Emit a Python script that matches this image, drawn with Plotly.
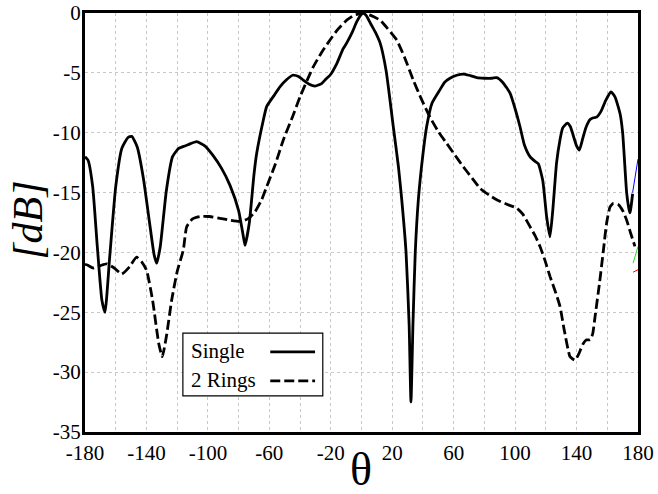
import plotly.graph_objects as go

# Single ring pattern (solid)
single_theta = [-180, -178, -175, -172, -169, -167, -164, -160, -156, -152, -149.6, -146, -142, -138, -135, -133.3,
                -131, -127, -123, -119, -117, -113, -107.3, -102, -96.7, -91, -85.6, -80, -77, -75.8, -73, -70, -68.2,
                -64, -61.7, -57, -53, -49, -44.8, -41, -37.9, -34, -30.2, -26, -23, -20.5, -16, -12, -9.6, -6, -3, 0,
                1.2, 3, 6, 9, 12.1, 16, 20.7, 24, 26.2, 29, 31, 32.2, 33.5, 35, 37, 40, 42.4, 46, 51.1, 54, 57.6, 62,
                66.3, 70, 75, 80, 85, 88, 92, 96.7, 100, 103.2, 106, 109.7, 113, 115.1, 118, 120.5, 122.7, 124.5, 127,
                129.2, 131, 134, 136, 138, 140, 141.8, 144, 146, 148.8, 151, 153.1, 156, 159, 162.4, 165, 168.3, 170,
                172.6, 174, 174.8, 176.5]
single_db = [-12.0, -12.3, -14.5, -19.5, -24.0, -25.0, -20.5, -14.5, -11.3, -10.4, -10.3, -11.2, -13.8, -17.5, -20.2,
             -20.9, -19.5, -14.8, -12.0, -11.3, -11.2, -11.0, -10.75, -11.1, -11.9, -13.0, -14.4, -16.5, -18.6, -19.4,
             -17.5, -13.5, -11.7, -9.0, -7.8, -6.9, -6.15, -5.6, -5.2, -5.3, -5.6, -5.95, -6.1, -5.9, -5.5, -5.2, -4.2,
             -3.0, -2.5, -1.6, -0.7, -0.1, 0.0, -0.2, -0.9, -1.6, -2.5, -4.8, -9.5, -12.8, -15.6, -20.0, -26.0, -32.5,
             -26.0, -20.0, -15.6, -11.8, -9.5, -7.5, -6.4, -5.8, -5.45, -5.2, -5.1, -5.2, -5.4, -5.45, -5.45, -5.4,
             -5.8, -6.7, -8.0, -9.5, -11.0, -12.0, -12.4, -12.6, -14.0, -17.0, -18.7, -16.5, -12.5, -10.6, -9.6, -9.2,
             -9.5, -10.3, -11.1, -11.45, -10.5, -9.6, -8.9, -8.75, -8.7, -8.2, -7.3, -6.6, -7.0, -8.4, -10.0, -15.0,
             -16.3, -16.7, -15.1]

# Two-ring pattern (dashed)
rings_theta = [-180, -178.5, -174.6, -170, -165.9, -161, -156.1, -151, -146.4, -143, -139.9, -136, -132, -129.7,
               -127, -123.6, -120, -116, -113.8, -110, -105.1, -99, -92.1, -86, -79.1, -74, -69.3, -65, -61.7, -56,
               -50.9, -45, -40, -35, -31.4, -26, -20.5, -15, -9.6, -5, 1.2, 6, 12.1, 17, 22.9, 28, 33.7, 39, 44.6,
               50, 55.5, 61, 66.3, 72, 77.2, 83, 88, 95, 101.1, 105, 109.7, 113, 116.2, 119, 122.7, 126, 129.2, 132,
               135.7, 137.5, 139, 141, 144.4, 146.5, 148.8, 150.5, 152, 155, 157.5, 159.5, 161.8, 164, 167.2, 170,
               172.6, 175, 178]
rings_db = [-21.0, -21.05, -21.3, -21.1, -20.95, -21.3, -21.8, -21.2, -20.4, -20.8, -21.5, -24.0, -27.6, -28.7,
            -27.0, -24.0, -21.6, -19.8, -17.85, -17.2, -17.0, -17.0, -17.15, -17.3, -17.4, -17.2, -16.6, -15.6, -14.5,
            -12.6, -10.6, -8.7, -7.0, -5.5, -4.5, -3.3, -2.25, -1.3, -0.6, -0.2, 0.0, -0.2, -0.6, -1.3, -2.25, -3.7,
            -5.6, -7.2, -8.7, -9.9, -10.9, -11.9, -12.85, -13.8, -14.65, -15.2, -15.6, -16.0, -16.3, -16.8, -17.85,
            -18.6, -19.5, -20.5, -22.0, -23.2, -24.5, -26.5, -28.7, -28.9, -29.0, -28.6, -27.6, -27.3, -27.3, -26.8,
            -25.4, -22.5, -19.8, -17.6, -16.2, -15.9, -16.0, -16.5, -17.3, -18.3, -19.5]

# small coloured remnants at the right edge
blue_theta = [176.5, 180]
blue_db = [-15.0, -12.2]
green_theta = [176.8, 180]
green_db = [-20.9, -19.5]
red_theta = [176.8, 180]
red_db = [-21.65, -21.45]

x_tick_vals = [-180, -140, -100, -60, -20, 20, 60, 100, 140, 180]
y_tick_vals = [0, -5, -10, -15, -20, -25, -30, -35]

legend_labels = ["Single", "2 Rings"]

serif = "Liberation Serif, Times New Roman, serif"

fig = go.Figure()
fig.add_trace(go.Scatter(x=single_theta, y=single_db, mode="lines", name=legend_labels[0],
                         line=dict(color="black", width=2.8, shape="spline", smoothing=0.5)))
fig.add_trace(go.Scatter(x=rings_theta, y=rings_db, mode="lines", name=legend_labels[1],
                         line=dict(color="black", width=2.8, dash="10px,4px", shape="spline", smoothing=0.5)))
fig.add_trace(go.Scatter(x=blue_theta, y=blue_db, mode="lines", line=dict(color="blue", width=1), showlegend=False))
fig.add_trace(go.Scatter(x=green_theta, y=green_db, mode="lines", line=dict(color="#22dd22", width=1), showlegend=False))
fig.add_trace(go.Scatter(x=red_theta, y=red_db, mode="lines", line=dict(color="red", width=1), showlegend=False))

axis_common = dict(showline=True, linecolor="black", linewidth=3, mirror=True, ticks="",
                   showgrid=True, gridcolor="#c8c8c8", griddash="dot", gridwidth=1, zeroline=False,
                   automargin=False, ticklabeloverflow="allow",
                   tickfont=dict(family=serif, size=21, color="black"))

fig.update_xaxes(range=[-180, 180], tickmode="array", tickvals=x_tick_vals,
                 ticktext=[str(v) for v in x_tick_vals], **axis_common)
fig.update_yaxes(range=[-35, 0], tickmode="array", tickvals=y_tick_vals,
                 ticktext=[str(v) for v in y_tick_vals], ticklabelstandoff=-3, **axis_common)
# minor gridlines every 20 degrees
fig.update_xaxes(minor=dict(dtick=20, showgrid=True, gridcolor="#c8c8c8", griddash="dot", gridwidth=1))

fig.update_layout(
    width=658, height=494,
    margin=dict(l=85, r=20, t=13, b=62),
    plot_bgcolor="white", paper_bgcolor="white",
    showlegend=False,
)

# axis titles
fig.add_annotation(text="<i>[dB]</i>", xref="paper", yref="paper", x=-0.103, y=0.504, showarrow=False,
                   textangle=-90, font=dict(family=serif, size=42, color="black"), xanchor="center", yanchor="middle")
fig.add_annotation(text="θ", xref="paper", yref="paper", x=0.499, y=-0.090, showarrow=False,
                   font=dict(family=serif, size=46, color="black"), xanchor="center", yanchor="middle")

# custom legend (text left, sample right)
lx0, lx1, ly0, ly1 = 0.177, 0.430, 0.086, 0.236
fig.add_shape(type="rect", xref="paper", yref="paper", x0=lx0, x1=lx1, y0=ly0, y1=ly1,
              line=dict(color="black", width=1.2), fillcolor="white", layer="above")
fig.add_annotation(text=legend_labels[0], xref="paper", yref="paper", x=lx0 + 0.011, y=0.193, showarrow=False,
                   xanchor="left", yanchor="middle", font=dict(family=serif, size=21, color="black"))
fig.add_annotation(text=legend_labels[1], xref="paper", yref="paper", x=lx0 + 0.011, y=0.124, showarrow=False,
                   xanchor="left", yanchor="middle", font=dict(family=serif, size=21, color="black"))
fig.add_shape(type="line", xref="paper", yref="paper", x0=0.335, x1=0.416, y0=0.191, y1=0.191,
              line=dict(color="black", width=2.8), layer="above")
fig.add_shape(type="line", xref="paper", yref="paper", x0=0.335, x1=0.416, y0=0.122, y1=0.122,
              line=dict(color="black", width=2.8, dash="10px,4px"), layer="above")

fig.write_html("out.html", config={"displayModeBar": False},
               post_script="document.body.style.margin='0px';document.body.style.overflow='hidden';")
